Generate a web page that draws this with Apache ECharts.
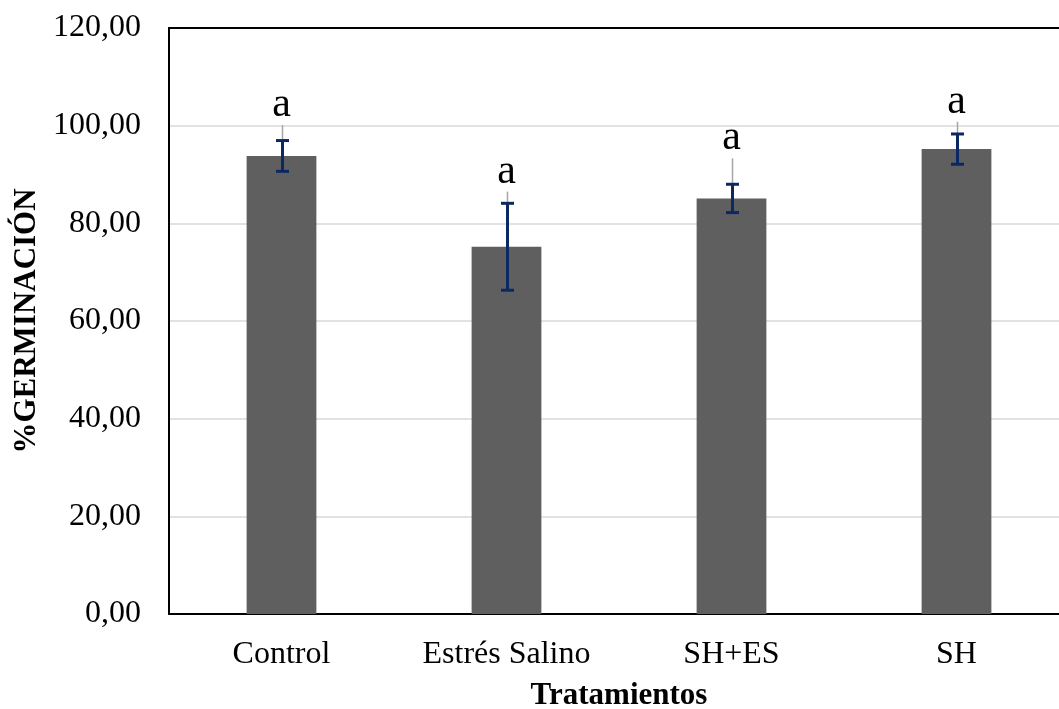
<!DOCTYPE html>
<html>
<head>
<meta charset="utf-8">
<script src="https://cdn.jsdelivr.net/npm/echarts@6/dist/echarts.min.js"></script>
<style>
  html, body { margin: 0; padding: 0; background: #fff; }
  #chart { width: 1059px; height: 709px; }
</style>
</head>
<body>
<div id="chart"></div>
<script>
// Germination percentage by treatment
const categories = ['Control', 'Estrés Salino', 'SH+ES', 'SH'];
const means = [93.8, 75.2, 85.1, 95.2];
const errInner = [3.15, 8.9, 2.9, 3.1];   // dark blue error bars (±)
const errOuter = [6.3, 11.3, 8.2, 5.6];   // thin grey upper bars
const letters = ['a', 'a', 'a', 'a'];
const yTicks = [0, 20, 40, 60, 80, 100, 120];

const serif = '"Liberation Serif", "Times New Roman", serif';

const chart = echarts.init(document.getElementById('chart'));

const errData = categories.map((c, i) => [i, means[i], errInner[i], errOuter[i]]);

chart.setOption({
  animation: false,
  grid: { left: 169, right: -10, top: 28, bottom: 95, containLabel: false, outerBoundsMode: 'none' },
  xAxis: [{
    type: 'category',
    data: categories,
    axisLine: { show: true, lineStyle: { color: '#000', width: 2 } },
    axisTick: { show: false },
    axisLabel: { color: '#000', fontFamily: serif, fontSize: 32, margin: 25 },
    name: 'Tratamientos',
    nameLocation: 'middle',
    nameGap: 66,
    nameTextStyle: { color: '#000', fontFamily: serif, fontSize: 31, fontWeight: 'bold' }
  }, {
    type: 'category',
    data: categories,
    position: 'top',
    axisLine: { show: true, lineStyle: { color: '#000', width: 2 } },
    axisTick: { show: false },
    axisLabel: { show: false }
  }],
  yAxis: {
    type: 'value',
    min: 0,
    max: 120,
    interval: 20,
    axisLine: { show: true, lineStyle: { color: '#000', width: 2 } },
    axisTick: { show: false },
    axisLabel: {
      color: '#000', fontFamily: serif, fontSize: 32, margin: 28,
      formatter: v => yTicks.includes(v) ? v.toFixed(2).replace('.', ',') : ''
    },
    splitLine: { lineStyle: { color: '#d9d9d9', width: 1.5 } },
    name: '%GERMINACIÓN',
    nameLocation: 'middle',
    nameGap: 127,
    nameTextStyle: { color: '#000', fontFamily: serif, fontSize: 31, fontWeight: 'bold' }
  },
  series: [{
    type: 'bar',
    data: means,
    barWidth: '31%',
    itemStyle: { color: '#5f5f5f' },
    z: 2
  }, {
    type: 'custom',
    data: errData,
    z: 5,
    renderItem: (params, api) => {
      const i = api.value(0), m = api.value(1), e1 = api.value(2), e2 = api.value(3);
      const c = api.coord([i, m]);
      const top1 = api.coord([i, m + e1]);
      const bot1 = api.coord([i, m - e1]);
      const top2 = api.coord([i, m + e2]);
      const x = c[0] + 1;
      const cap = 6.5;
      const blue = '#0c2862';
      return {
        type: 'group',
        children: [
          { type: 'line', shape: { x1: x, y1: c[1], x2: x, y2: top2[1] },
            style: { stroke: '#a6a6a6', lineWidth: 1.5 } },
          { type: 'line', shape: { x1: x, y1: top1[1], x2: x, y2: bot1[1] },
            style: { stroke: blue, lineWidth: 3 } },
          { type: 'line', shape: { x1: x - cap, y1: top1[1], x2: x + cap, y2: top1[1] },
            style: { stroke: blue, lineWidth: 3 } },
          { type: 'line', shape: { x1: x - cap, y1: bot1[1], x2: x + cap, y2: bot1[1] },
            style: { stroke: blue, lineWidth: 3 } },
          { type: 'text', x: c[0], y: top2[1] + 1,
            style: { text: letters[i], fill: '#000', font: '42px ' + serif,
                     textAlign: 'center', textVerticalAlign: 'bottom' } }
        ]
      };
    }
  }]
});
</script>
</body>
</html>
